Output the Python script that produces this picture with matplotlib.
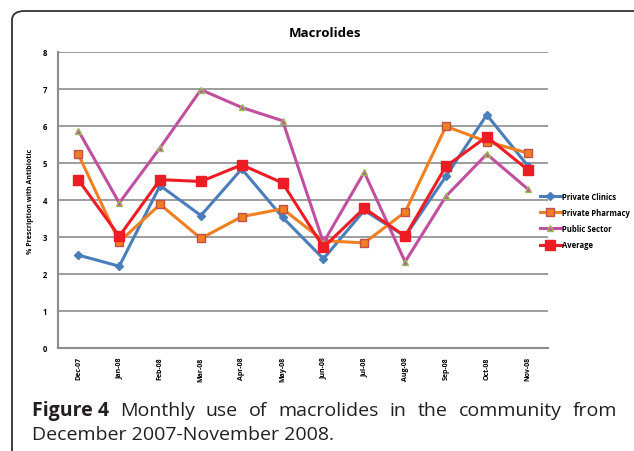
import matplotlib.pyplot as plt
from matplotlib.patches import FancyBboxPatch

months = ['Dec-07', 'Jan-08', 'Feb-08', 'Mar-08', 'Apr-08', 'May-08',
          'Jun-08', 'Jul-08', 'Aug-08', 'Sep-08', 'Oct-08', 'Nov-08']
clinics = [2.51, 2.21, 4.39, 3.58, 4.84, 3.53, 2.41, 3.72, 3.02, 4.64, 6.30, 4.93]
pharmacy = [5.23, 2.87, 3.88, 2.96, 3.55, 3.76, 2.90, 2.84, 3.67, 5.99, 5.58, 5.27]
public = [5.87, 3.92, 5.41, 6.98, 6.50, 6.14, 2.85, 4.75, 2.33, 4.10, 5.24, 4.30]
average = [4.54, 3.02, 4.55, 4.50, 4.95, 4.46, 2.72, 3.78, 3.02, 4.91, 5.71, 4.82]
yticks = [0, 1, 2, 3, 4, 5, 6, 7, 8]

plt.rcParams['font.family'] = ['Open Sans', 'DejaVu Sans']

fig = plt.figure(figsize=(6.34, 4.52), dpi=100)
ax = fig.add_axes([0.0915, 0.2279, 0.7729, 0.6549])

x = range(len(months))
ax.plot(x, clinics, color='#4a7ebb', lw=2.2, marker='D', ms=4, mfc='#4a7ebb', mec='#4a7ebb', label='Private Clinics')
ax.plot(x, pharmacy, color='#f07f22', lw=2.2, marker='s', ms=6, mfc='#f07f22', mec='#c0504d', label='Private Pharmacy')
ax.plot(x, public, color='#c0509f', lw=2.2, marker='^', ms=5, mfc='#c0509f', mec='#9bbb59', label='Public Sector')
ax.plot(x, average, color='#ee1c25', lw=2.2, marker='s', ms=7, mfc='#ee1c25', mec='#ee1c25', label='Average')

ax.set_xlim(-0.5, len(months) - 0.5)
ax.set_ylim(0, 8)
ax.set_yticks(yticks)
ax.set_xticks(list(x))
ax.set_xticklabels(months, rotation=90, fontsize=5, fontweight='bold')
ax.tick_params(axis='y', labelsize=5.5, length=0, pad=8)
ax.tick_params(axis='x', length=0, pad=6)
for t in ax.get_yticklabels():
    t.set_fontweight('bold')
ax.grid(axis='y', color='#8c8c8c', lw=1.2)
ax.set_axisbelow(True)
for s in ['top', 'right']:
    ax.spines[s].set_visible(False)
for s in ['left', 'bottom']:
    ax.spines[s].set_color('#8c8c8c')
    ax.spines[s].set_linewidth(1.5)
ax.set_ylabel('% Prescription with Antibiotic', fontsize=5, fontweight='bold', labelpad=6)

fig.text(0.513, 0.925, 'Macrolides', ha='center', va='center', fontsize=9.5, fontweight='bold')

fig.legend(loc='center left', bbox_to_anchor=(0.845, 0.51), frameon=False,
           prop={'size': 5.5, 'weight': 'bold'}, handlelength=2.8, handletextpad=0.1,
           labelspacing=0.95, borderpad=0)

# frame around the figure panel
frame = FancyBboxPatch((12 / 634, -0.1), 1.2, 1.0 - 12 / 452 + 0.1,
                       boxstyle='round,pad=0,rounding_size=0.02',
                       transform=fig.transFigure, fill=False, ec='#333333', lw=1.3)
fig.patches.append(frame)

# caption, first line justified
W = 634
cap_y1 = 1 - 416 / 452
cap_y2 = 1 - 440 / 452
csize = 14
ccol = '#231f20'
t1 = fig.text(32 / W, cap_y1, 'Figure 4', fontsize=csize, fontweight='bold', color=ccol, va='baseline')
words = 'Monthly use of macrolides in the community from'.split()
wtexts = [fig.text(0, cap_y1, w, fontsize=csize, color=ccol, va='baseline') for w in words]
fig.canvas.draw()
r = fig.canvas.get_renderer()
start = t1.get_window_extent(r).x1
widths = [t.get_window_extent(r).width for t in wtexts]
gap = (617 - start - sum(widths)) / len(words)
pos = start + gap
for t, w in zip(wtexts, widths):
    t.set_x(pos / W)
    pos += w + gap
fig.text(32 / W, cap_y2, 'December 2007-November 2008.', fontsize=csize,
         color=ccol, va='baseline')

fig.savefig('out.png', dpi=100)
